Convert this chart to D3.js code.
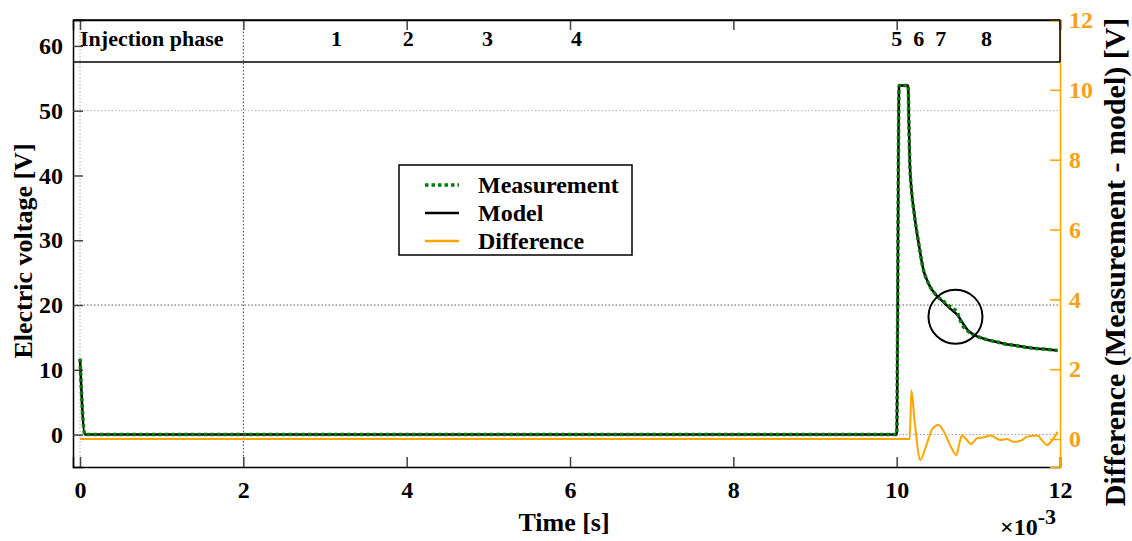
<!DOCTYPE html>
<html>
<head>
<meta charset="utf-8">
<script src="https://cdn.jsdelivr.net/npm/d3@7"></script>
<style>
  body { margin: 0; background: #fff; }
  svg text { font-family: "Liberation Serif", "Times New Roman", serif; font-weight: bold; }
</style>
</head>
<body>
<svg id="chart" width="1132" height="541"></svg>
<script>
// time axis values are in units of 1e-3 s (as on the axis)
const measTime = [0, 0.06, 10.0, 10.03, 10.14, 10.15, 10.16, 10.18, 10.21, 10.24, 10.27, 10.30, 10.33, 10.37, 10.41, 10.46, 10.51, 10.56, 10.61, 10.67, 10.74, 10.78, 10.82, 10.86, 10.90, 10.96, 11.02, 11.12, 11.23, 11.33, 11.43, 11.53, 11.63, 11.80, 11.97];
const measVolt = [11.7, 0, 0, 53.9, 53.9, 48, 42.3, 38, 34.6, 31.8, 29.5, 27.2, 25.3, 23.9, 22.8, 21.9, 21.2, 20.7, 20.2, 19.6, 18.9, 17.6, 16.6, 16.1, 15.7, 15.3, 15.0, 14.6, 14.3, 14.0, 13.8, 13.6, 13.4, 13.2, 13.0];
const modelVolt = [11.7, 0, 0, 53.9, 53.9, 48, 42.3, 38, 34.6, 31.8, 29.5, 27.2, 25.3, 23.9, 22.8, 21.9, 21.2, 20.6, 20.0, 19.3, 18.5, 17.8, 17.0, 16.3, 15.8, 15.3, 15.0, 14.6, 14.3, 14.0, 13.8, 13.6, 13.4, 13.2, 13.0];

const diffTime = [0, 10.16, 10.18, 10.22, 10.29, 10.36, 10.44, 10.51, 10.58, 10.66, 10.73, 10.77, 10.80, 10.85, 10.91, 10.99, 11.07, 11.15, 11.27, 11.35, 11.43, 11.52, 11.60, 11.72, 11.84, 11.90, 11.97];
const diffVolt = [0, 0, 1.4, 0.5, -0.6, -0.2, 0.3, 0.4, 0.2, -0.2, -0.46, -0.1, 0.11, 0.0, -0.14, 0.03, 0.05, 0.1, -0.03, 0.0, -0.08, -0.05, 0.07, 0.1, -0.17, -0.05, 0.21];

const xTicks = [0, 2, 4, 6, 8, 10, 12];
const leftTicks = [0, 10, 20, 30, 40, 50, 60];
const rightTicks = [0, 2, 4, 6, 8, 10, 12];

const phaseLabels = ["1", "2", "3", "4", "5", "6", "7", "8"];
const phaseTime = [3.14, 4.02, 4.99, 6.08, 10.0, 10.27, 10.54, 11.1];

const legendItems = ["Measurement", "Model", "Difference"];

const svg = d3.select("#chart");
const margin = {top: 20, right: 72, bottom: 74, left: 73};
const W = 1132, H = 541;

const x = d3.scaleLinear().domain([-0.086, 12]).range([margin.left, W - margin.right]);
const yL = d3.scaleLinear().domain([-5, 64]).range([H - margin.bottom, margin.top]);
const yR = d3.scaleLinear().domain([-0.8, 12]).range([H - margin.bottom, margin.top]);

const orange = "#ffa500";
const orangeText = "#f9a01b";

// grid (dotted)
const grid = svg.append("g");
[[50, "#aaa"], [20, "#555"], [0, "#999"]].forEach(([v, c]) => {
  grid.append("line").attr("x1", x.range()[0]).attr("x2", x.range()[1])
    .attr("y1", yL(v)).attr("y2", yL(v))
    .attr("stroke", c).attr("stroke-width", 1).attr("stroke-dasharray", "1.5,2");
});
[[0, "#aaa"], [2, "#444"]].forEach(([v, c]) => {
  grid.append("line").attr("x1", x(v)).attr("x2", x(v))
    .attr("y1", yL.range()[0]).attr("y2", yL.range()[1])
    .attr("stroke", c).attr("stroke-width", 1).attr("stroke-dasharray", "1.5,2");
});

const curve = d3.curveMonotoneX;
const lineL = d3.line().x(d => x(d[0])).y(d => yL(d[1])).curve(curve);
const lineR = d3.line().x(d => x(d[0])).y(d => yR(d[1])).curve(curve);

svg.append("path")
  .attr("d", lineR(d3.zip(diffTime, diffVolt)))
  .attr("fill", "none").attr("stroke", orange).attr("stroke-width", 2);

svg.append("path")
  .attr("d", lineL(d3.zip(measTime, modelVolt)))
  .attr("fill", "none").attr("stroke", "#000").attr("stroke-width", 2.5);

svg.append("path")
  .attr("d", lineL(d3.zip(measTime, measVolt)))
  .attr("fill", "none").attr("stroke", "#0a7a0a").attr("stroke-width", 3.5)
  .attr("stroke-dasharray", "3.5,3");

// highlight circle
svg.append("circle")
  .attr("cx", x(10.72)).attr("cy", yL(18.2)).attr("r", 27)
  .attr("fill", "none").attr("stroke", "#000").attr("stroke-width", 2);

// axes
const fs = "24px";
const axL = svg.append("g").attr("transform", `translate(${margin.left},0)`)
  .call(d3.axisLeft(yL).tickValues(leftTicks).tickSize(-10).tickPadding(10));
const axB = svg.append("g").attr("transform", `translate(0,${H - margin.bottom})`)
  .call(d3.axisBottom(x).tickValues(xTicks).tickSize(-10).tickPadding(14));
const axT = svg.append("g").attr("transform", `translate(0,${margin.top})`)
  .call(d3.axisTop(x).tickValues(xTicks).tickSize(-10).tickFormat(""));
const axR = svg.append("g").attr("transform", `translate(${W - margin.right},0)`)
  .call(d3.axisRight(yR).tickValues(rightTicks).tickSize(-10).tickPadding(9));

[axL, axB, axT].forEach(a => {
  a.select(".domain").attr("stroke", "#000").attr("stroke-width", 1.5);
  a.selectAll(".tick line").attr("stroke", "#444").attr("stroke-width", 1.5);
  a.selectAll("text").attr("font-size", fs).attr("fill", "#000")
    .attr("font-family", "Liberation Serif").attr("font-weight", "bold");
});
axR.select(".domain").attr("stroke", orange).attr("stroke-width", 1.5);
axR.selectAll(".tick line").attr("stroke", orange).attr("stroke-width", 1.5);
axR.selectAll("text").attr("font-size", fs).attr("fill", orangeText)
  .attr("font-family", "Liberation Serif").attr("font-weight", "bold");

// injection phase band
const bandBottom = yL(57.5);
svg.append("line").attr("x1", x.range()[0]).attr("x2", x.range()[1])
  .attr("y1", bandBottom).attr("y2", bandBottom)
  .attr("stroke", "#000").attr("stroke-width", 1.5);
svg.append("line").attr("x1", x.range()[1]).attr("x2", x.range()[1])
  .attr("y1", margin.top).attr("y2", bandBottom)
  .attr("stroke", "#000").attr("stroke-width", 1.5);
svg.append("line").attr("x1", x.range()[0]).attr("x2", x.range()[1])
  .attr("y1", margin.top).attr("y2", margin.top)
  .attr("stroke", "#000").attr("stroke-width", 1.5);

svg.append("text").attr("x", x(0)).attr("y", 46)
  .attr("font-size", "22px").text("Injection phase");
svg.append("g").selectAll("text").data(phaseLabels).join("text")
  .attr("x", (d, i) => x(phaseTime[i])).attr("y", 46)
  .attr("text-anchor", "middle").attr("font-size", "22px").text(d => d);

// axis titles
svg.append("text").attr("x", 564).attr("y", 531).attr("text-anchor", "middle")
  .attr("font-size", "26px").text("Time [s]");
svg.append("text").attr("transform", "translate(32,251) rotate(-90)")
  .attr("text-anchor", "middle").attr("font-size", "26px").text("Electric voltage [V]");
svg.append("text").attr("transform", "translate(1125,262) rotate(-90)")
  .attr("text-anchor", "middle").attr("font-size", "30px").text("Difference (Measurement - model) [V]");

const mult = svg.append("text").attr("x", 1000).attr("y", 535).attr("font-size", "24px")
  .attr("font-weight", "normal");
mult.append("tspan").text("\u00d710");
mult.append("tspan").attr("dy", -11).attr("font-size", "22px").text("-3");

// legend
const lg = svg.append("g").attr("transform", "translate(399,165)");
lg.append("rect").attr("width", 233).attr("height", 90)
  .attr("fill", "#fff").attr("stroke", "#000").attr("stroke-width", 1.5);
const styles = [
  {stroke: "#0a7a0a", w: 3.5, dash: "3.5,3"},
  {stroke: "#000", w: 2.5, dash: null},
  {stroke: orange, w: 2.5, dash: null}
];
legendItems.forEach((name, i) => {
  const yy = 20 + i * 28;
  lg.append("line").attr("x1", 26).attr("x2", 60).attr("y1", yy).attr("y2", yy)
    .attr("stroke", styles[i].stroke).attr("stroke-width", styles[i].w)
    .attr("stroke-dasharray", styles[i].dash);
  lg.append("text").attr("x", 79).attr("y", yy).attr("dy", "0.35em")
    .attr("font-size", "24px").text(name);
});
</script>
</body>
</html>
